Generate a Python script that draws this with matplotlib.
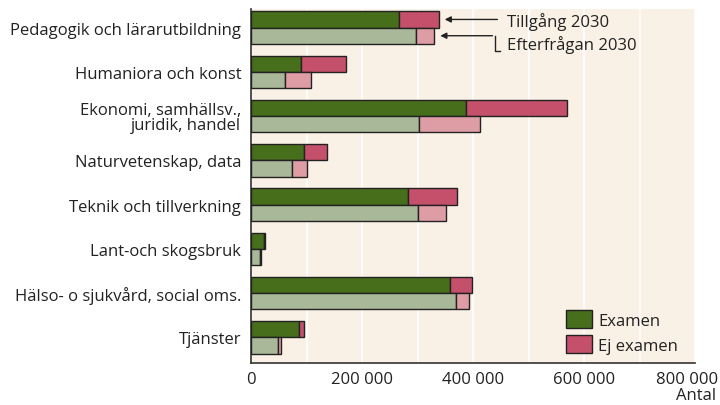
import matplotlib
matplotlib.use("Agg")
import matplotlib.pyplot as plt
import numpy as np
from matplotlib.transforms import ScaledTranslation
from matplotlib.patches import Patch

plt.rcParams['font.family'] = ['Open Sans', 'DejaVu Sans']

categories = ["Pedagogik och lärarutbildning", "Humaniora och konst",
              "Ekonomi, samhällsv.,\njuridik, handel", "Naturvetenskap, data",
              "Teknik och tillverkning", "Lant-och skogsbruk",
              "Hälso- o sjukvård, social oms.", "Tjänster"]
supply_exam = [267000, 89500, 388000, 95500, 282000, 23400, 358000, 86000]
supply_total = [338000, 171700, 569000, 137000, 370600, 25800, 397600, 95500]
demand_exam = [297000, 60700, 302700, 74500, 300000, 16800, 368800, 49000]
demand_total = [330000, 109000, 412000, 101000, 351000, 18000, 392000, 54600]
xticks = [0, 200000, 400000, 600000, 800000]
xtick_labels = ["0", "200 000", "400 000", "600 000", "800 000"]

supply_ej = np.array(supply_total) - np.array(supply_exam)
demand_ej = np.array(demand_total) - np.array(demand_exam)

bg = "#F9F1E5"
c_exam = "#476E1B"
c_ej = "#C4506B"
c_exam_l = "#A8B898"
c_ej_l = "#DE9CA5"
edge = "#222222"
txt = "#222222"
fs = 12

fig = plt.figure(figsize=(7.2, 4.06), dpi=100)
ax = fig.add_axes([251/720, 42/406, 444/720, 354/406])
ax.set_facecolor(bg)

n = len(categories)
y = np.arange(n)
h = 0.368
off = 0.08
yT = y - off - h/2
yD = y - off + h/2

ax.barh(yT, supply_exam, height=h, color=c_exam, edgecolor=edge, linewidth=1, zorder=3)
ax.barh(yT, supply_ej, left=supply_exam, height=h, color=c_ej, edgecolor=edge, linewidth=1, zorder=3)
ax.barh(yD, demand_exam, height=h, color=c_exam_l, edgecolor=edge, linewidth=1, zorder=3)
ax.barh(yD, demand_ej, left=demand_exam, height=h, color=c_ej_l, edgecolor=edge, linewidth=1, zorder=3)

ax.set_xlim(0, 800000)
ax.set_ylim(n - 0.5, -0.5)
ax.set_xticks(xticks)
ax.set_xticklabels(xtick_labels, fontsize=fs, color=txt)
ax.set_xticks(np.arange(100000, 800000, 100000), minor=True)
ax.grid(True, axis='x', which='both', color='white', linewidth=1.2, zorder=0)
ax.set_yticks(y - off)
ax.set_yticklabels(categories, fontsize=fs, color=txt, linespacing=0.95)
ax.tick_params(axis='both', which='both', length=0)
ax.tick_params(axis='y', pad=7)
ax.tick_params(axis='x', pad=6)
for s in ['top', 'right']:
    ax.spines[s].set_visible(False)
for s in ['left', 'bottom']:
    ax.spines[s].set_color("#333333")
    ax.spines[s].set_linewidth(1.2)

lbls = ax.get_xticklabels()
lbls[-1].set_transform(lbls[-1].get_transform() + ScaledTranslation(-0.08, 0, fig.dpi_scale_trans))

fig.text(716/720, 2/406, "Antal", ha='right', va='bottom', fontsize=fs, color=txt)

# annotations
ax.annotate("", xy=(supply_total[0] + 6000, yT[0]), xytext=(449000, yT[0]),
            arrowprops=dict(arrowstyle='-|>', color=txt, lw=1, mutation_scale=9), zorder=5)
ax.text(461000, -0.22, "Tillgång 2030", fontsize=fs, va='center', ha='left', color=txt, zorder=5)
ax.annotate("", xy=(demand_total[0] + 6000, yD[0]), xytext=(440000, yD[0]),
            arrowprops=dict(arrowstyle='-|>', color=txt, lw=1, mutation_scale=9), zorder=5)
ax.plot([440000, 440000, 449000], [yD[0], 0.45, 0.45], color=txt, lw=1, zorder=5)
ax.text(461000, 0.30, "Efterfrågan 2030", fontsize=fs, va='center', ha='left', color=txt, zorder=5)

handles = [Patch(facecolor=c_exam, edgecolor=edge, label="Examen"),
           Patch(facecolor=c_ej, edgecolor=edge, label="Ej examen")]
leg = ax.legend(handles=handles, loc='lower right', bbox_to_anchor=(0.992, -0.012), frameon=False,
                fontsize=fs, handlelength=1.6, handleheight=1.3, handletextpad=0.36,
                labelspacing=0.38, borderpad=0.3)
for t in leg.get_texts():
    t.set_color(txt)

fig.savefig("out.png", dpi=100, facecolor='white')
